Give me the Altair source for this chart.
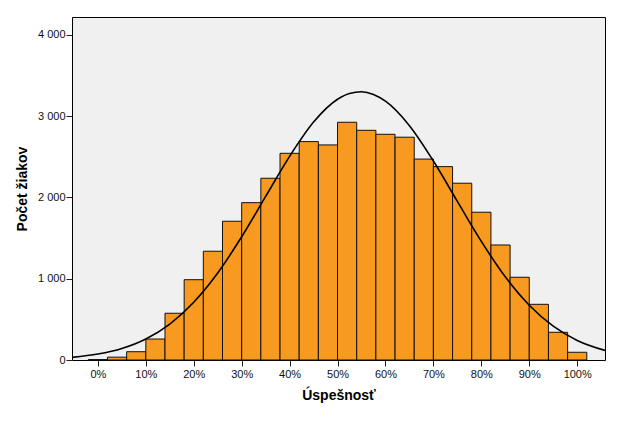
import altair as alt
import pandas as pd

# Histogram: bin centres (%) and counts
bin_centers = [0, 4, 8, 12, 16, 20, 24, 28, 32, 36, 40, 44, 48, 52, 56, 60, 64, 68, 72, 76, 80, 84, 88, 92, 96, 100]
counts = [5, 35, 102, 258, 575, 988, 1338, 1707, 1936, 2236, 2543, 2687, 2646, 2925, 2826, 2777, 2741,
          2472, 2379, 2175, 1818, 1415, 1018, 685, 341, 95]
bin_half = 2

# Normal curve, values
curve_x = [-5.4, 0, 5, 10, 15, 20, 25, 30, 35, 40, 45, 50, 52.5, 55, 57.5, 60, 65, 70, 75, 80, 85, 90, 95, 100, 105.8]
curve_y = [32, 73, 141, 258, 442, 711, 1071, 1516, 2012, 2505, 2927, 3208, 3280, 3300, 3267, 3184, 2883,
           2448, 1951, 1459, 1023, 674, 416, 241, 118]

x_ticks = [0, 10, 20, 30, 40, 50, 60, 70, 80, 90, 100]
y_ticks = [0, 1000, 2000, 3000, 4000]

bars_df = pd.DataFrame({
    "x0": [c - bin_half for c in bin_centers],
    "x1": [c + bin_half for c in bin_centers],
    "count": counts,
    "base": [0] * len(counts),
})
curve_df = pd.DataFrame({"x": curve_x, "y": curve_y})

xscale = alt.Scale(domain=[-5.4, 105.8], nice=False, zero=False)
yscale = alt.Scale(domain=[0, 4220], nice=False)

xaxis = alt.Axis(
    values=x_ticks,
    labelExpr="datum.value + '%'",
    title="Úspešnosť",
    titleX=266.5,
    titleY=35,
    titleBaseline="middle",
    titleAlign="center",
)
yaxis = alt.Axis(
    values=y_ticks,
    labelExpr="replace(format(datum.value, ','), ',', ' ')",
    title="Počet žiakov",
    titleX=-50,
    titleY=171.5,
    titleAngle=270,
    titleBaseline="middle",
    titleAlign="center",
    labelPadding=1,
)

bars = alt.Chart(bars_df).mark_rect(
    fill="#F89A1F", stroke="#111111", strokeWidth=1
).encode(
    x=alt.X("x0:Q", scale=xscale, axis=xaxis),
    x2="x1:Q",
    y=alt.Y("count:Q", scale=yscale, axis=yaxis),
    y2="base:Q",
)

line = alt.Chart(curve_df).mark_line(
    color="black", strokeWidth=1.6, interpolate="monotone", clip=True
).encode(
    x=alt.X("x:Q", scale=xscale),
    y=alt.Y("y:Q", scale=yscale),
)

chart = alt.layer(bars, line).properties(
    width=533,
    height=343,
    autosize=alt.AutoSizeParams(type="none"),
    padding={"left": 72, "top": 17, "right": 13, "bottom": 61},
    background="white",
).configure_view(
    fill="#F0F0F0", stroke="black", strokeWidth=1
).configure_axis(
    domain=False,
    grid=False,
    ticks=True,
    tickSize=6,
    tickColor="#222222",
    tickWidth=1,
    labelFont="Liberation Sans",
    labelFontSize=11,
    labelColor="#111111",
    labelPadding=2,
    titleFont="Liberation Sans",
    titleFontSize=14,
    titleFontWeight="bold",
    titleColor="#000000",
)

chart.save("out.html", embed_options={"renderer": "svg", "actions": False})
